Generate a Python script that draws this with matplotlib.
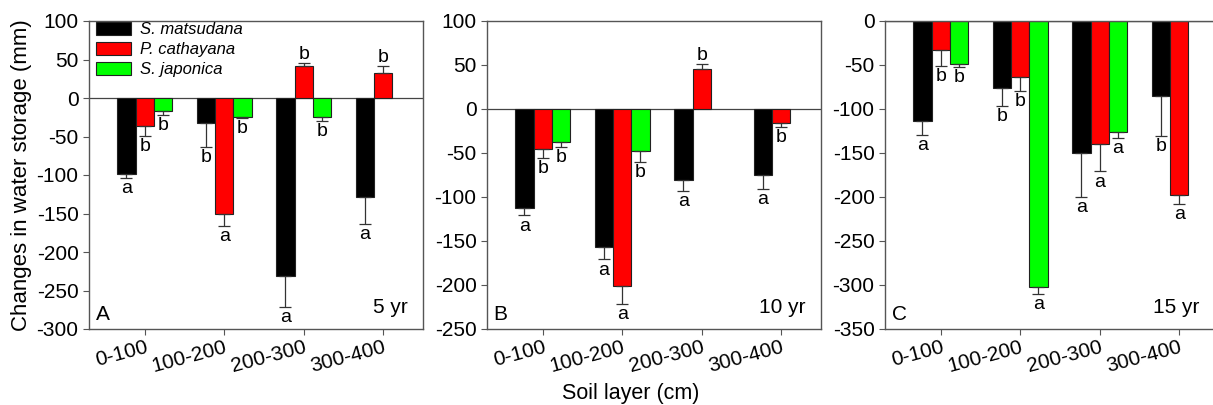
import numpy as np
from matplotlib import pyplot as plt

plt.rcParams['font.family'] = ['Liberation Sans', 'DejaVu Sans']
plt.rcParams['axes.unicode_minus'] = False

layers = ['0-100', '100-200', '200-300', '300-400']
species = ['S. matsudana', 'P. cathayana', 'S. japonica']
colors = ['#000000', '#ff0000', '#00ff00']

# 5 yr
a_mat = [-99, -32, -231, -128]
a_cat = [-36, -150, 41, 32]
a_jap = [-17, -25, -25, np.nan]
a_mat_err = [5, 32, 40, 36]
a_cat_err = [13, 16, 4, 9]
a_jap_err = [5, 1.5, 5, np.nan]
a_mat_let = ['a', 'b', 'a', 'a']
a_cat_let = ['b', 'a', 'b', 'b']
a_jap_let = ['b', 'b', 'b', '']

# 10 yr
b_mat = [-112, -157, -81, -75]
b_cat = [-45, -201, 46, -16]
b_jap = [-37.5, -48, np.nan, np.nan]
b_mat_err = [9, 14, 12, 16]
b_cat_err = [11, 21, 5, 4.5]
b_jap_err = [6, 12, np.nan, np.nan]
b_mat_let = ['a', 'a', 'a', 'a']
b_cat_let = ['b', 'a', 'b', 'b']
b_jap_let = ['b', 'b', '', '']

# 15 yr
c_mat = [-114, -76.5, -150, -85]
c_cat = [-32.5, -63.5, -140, -198]
c_jap = [-48.5, -302, -126.5, np.nan]
c_mat_err = [16, 20.5, 50, 46]
c_cat_err = [18.5, 15.5, 31, 9.5]
c_jap_err = [4, 8.5, 6.5, np.nan]
c_mat_let = ['a', 'b', 'a', 'b']
c_cat_let = ['b', 'b', 'a', 'a']
c_jap_let = ['b', 'a', 'a', '']

panels = [
    ([a_mat, a_cat, a_jap], [a_mat_err, a_cat_err, a_jap_err],
     [a_mat_let, a_cat_let, a_jap_let], (-300, 100), 50, 'A', '5 yr'),
    ([b_mat, b_cat, b_jap], [b_mat_err, b_cat_err, b_jap_err],
     [b_mat_let, b_cat_let, b_jap_let], (-250, 100), 50, 'B', '10 yr'),
    ([c_mat, c_cat, c_jap], [c_mat_err, c_cat_err, c_jap_err],
     [c_mat_let, c_cat_let, c_jap_let], (-350, 0), 50, 'C', '15 yr'),
]

fig = plt.figure(figsize=(12.13, 4.05), dpi=100)
lefts = [89, 487, 885]
w = 334 / 1213
spine_col = '#555555'
bw = 0.23
x = np.arange(len(layers))

for i, (vals, errs, lets, ylim, step, tag, yr) in enumerate(panels):
    ax = fig.add_axes([lefts[i] / 1213, 76 / 405, w, 308 / 405])
    for j in range(3):
        v = np.array(vals[j], dtype=float)
        e = np.array(errs[j], dtype=float)
        xs = x + (j - 1) * bw
        ax.bar(xs, v, bw, color=colors[j], edgecolor='#222222', linewidth=0.8,
               label=species[j], zorder=2)
        lo = np.where(v < 0, e, 0)
        hi = np.where(v > 0, e, 0)
        ax.errorbar(xs, v, yerr=[lo, hi], fmt='none', ecolor='#333333',
                    elinewidth=0.9, capsize=4.5, capthick=0.9, zorder=3)
        for k in range(len(layers)):
            if np.isnan(v[k]) or not lets[j][k]:
                continue
            if v[k] < 0:
                ax.annotate(lets[j][k], (xs[k], v[k] - e[k]), xytext=(0, -1.5),
                            textcoords='offset points', ha='center', va='top',
                            fontsize=14)
            else:
                ax.annotate(lets[j][k], (xs[k], v[k] + e[k]), xytext=(0, 0),
                            textcoords='offset points', ha='center', va='bottom',
                            fontsize=14)
    ax.axhline(0, color='#444444', lw=0.9, zorder=1)
    ax.set_xlim(-0.7, 3.5)
    ax.set_ylim(*ylim)
    ax.set_yticks(np.arange(ylim[0], ylim[1] + 1, step))
    ax.set_xticks(x)
    ax.set_xticklabels(layers, rotation=15, ha='right', rotation_mode='anchor')
    ax.tick_params(axis='both', labelsize=15, direction='out', length=4.5,
                   color=spine_col)
    ax.tick_params(axis='x', pad=2)
    ax.tick_params(axis='y', pad=3)
    for s in ax.spines.values():
        s.set_color(spine_col)
        s.set_linewidth(1.0)
    ax.text(0.02, 0.015, tag, transform=ax.transAxes, fontsize=15,
            ha='left', va='bottom')
    ax.text(0.955 if i < 2 else 0.94, 0.04, yr, transform=ax.transAxes,
            fontsize=15, ha='right', va='bottom')
    if i == 0:
        ax.set_ylabel('Changes in water storage (mm)', fontsize=16, labelpad=3)
        leg = ax.legend(loc='upper left', bbox_to_anchor=(-0.01, 1.03),
                        frameon=False, fontsize=12, handlelength=2.1,
                        handleheight=0.8, labelspacing=0.3,
                        handletextpad=0.55, borderaxespad=0.2)
        for t in leg.get_texts():
            t.set_fontstyle('italic')

fig.text(631 / 1213, 12 / 405, 'Soil layer (cm)', ha='center', va='center',
         fontsize=15.5)

fig.savefig('out.png', dpi=100)
